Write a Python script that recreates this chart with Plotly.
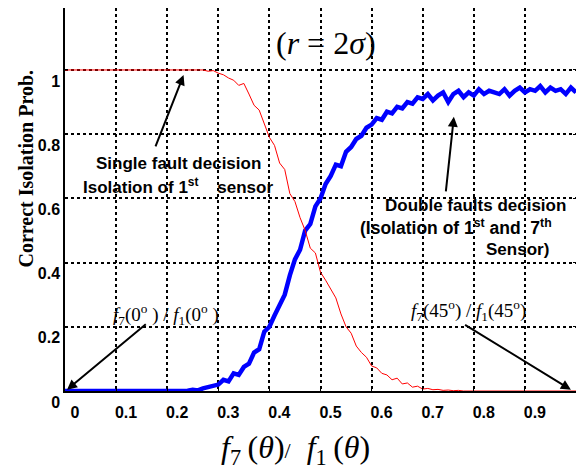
import plotly.graph_objects as go

# sample positions of f7/f1 ratio
ratio = [round(i * 0.01, 2) for i in range(101)]

# single fault decision (isolation of 1st sensor) probability
single_fault = [1.0] * 25 + [
    1.0, 0.998, 1.0, 0.996, 0.998, 0.99, 0.985, 0.975, 0.968, 0.952,
    0.958, 0.925, 0.89, 0.875, 0.83, 0.79, 0.765, 0.71, 0.69, 0.615,
    0.59, 0.54, 0.5, 0.445, 0.43, 0.37, 0.345, 0.315, 0.29, 0.24,
    0.2, 0.18, 0.14, 0.12, 0.105, 0.078, 0.072, 0.055, 0.05, 0.035,
    0.04, 0.022, 0.025, 0.012, 0.015, 0.006, 0.008, 0.004, 0.005, 0.002,
    0.003, 0.001, 0.002] + [0.0] * 23

# double faults decision (isolation of 1st and 7th sensor) probability
double_fault = [0.0] * 20 + [
    0.0, 0.002, 0.0, 0.002, 0.001, 0.004, 0.002, 0.008, 0.012, 0.018,
    0.02, 0.035, 0.03, 0.055, 0.05, 0.075, 0.085, 0.12, 0.13, 0.185,
    0.2, 0.235, 0.27, 0.3, 0.36, 0.41, 0.44, 0.5, 0.52, 0.575,
    0.6, 0.645, 0.67, 0.705, 0.7, 0.745, 0.76, 0.785, 0.795, 0.82,
    0.83, 0.85, 0.845, 0.87, 0.865, 0.885, 0.88, 0.9, 0.895, 0.915,
    0.91, 0.925, 0.905, 0.92, 0.93, 0.9, 0.925, 0.935, 0.915, 0.93,
    0.92, 0.94, 0.925, 0.935, 0.93, 0.925, 0.94, 0.92, 0.935, 0.945,
    0.93, 0.94, 0.935, 0.95, 0.93, 0.945, 0.935, 0.94, 0.925, 0.945,
    0.93]

x_tickvals = [0, 0.1, 0.2, 0.3, 0.4, 0.5, 0.6, 0.7, 0.8, 0.9, 1.0]
x_ticktext = ["0", "0.1", "0.2", "0.3", "0.4", "0.5", "0.6", "0.7", "0.8", "0.9", "1"]
y_tickvals = [0, 0.2, 0.4, 0.6, 0.8, 1.0]
y_ticktext = ["0", "0.2", "0.4", "0.6", "0.8", "1"]

SANS = "Liberation Sans, Arial, sans-serif"
SERIF = "Liberation Serif, Times New Roman, serif"

fig = go.Figure()
fig.add_trace(go.Scatter(x=ratio, y=double_fault, mode="lines",
                         line=dict(color="#0000FF", width=4.5), showlegend=False))
fig.add_trace(go.Scatter(x=ratio, y=single_fault, mode="lines",
                         line=dict(color="#FF0000", width=1), showlegend=False))

axis_common = dict(showline=True, linecolor="black", linewidth=1.5, mirror="ticks",
                   ticks="inside", ticklen=3, tickcolor="black",
                   showgrid=True, gridcolor="black", griddash="dot", gridwidth=1.5,
                   zeroline=False, automargin=False,
                   tickfont=dict(family=SANS, size=16, color="black", weight="bold"))

fig.update_xaxes(range=[0, 1.0], tickvals=x_tickvals, ticktext=x_ticktext,
                 ticklabelshift=10, ticklabelstandoff=6, **axis_common)
fig.update_yaxes(range=[0, 1.193], tickvals=y_tickvals, ticktext=y_ticktext,
                 ticklabelshift=11, ticklabelstandoff=0, **axis_common)

C = dict(xanchor="center", yanchor="middle")
ann = []
# y title
ann.append(dict(text="<b>Correct Isolation Prob.</b>", textangle=-90,
                xref="paper", yref="paper", x=-0.077, y=0.58, showarrow=False,
                font=dict(family=SERIF, size=20, color="black"), **C))
# x title
ann.append(dict(text="<i>f</i><sub>7</sub>\u2009(<i>θ</i>)"
                     "<span style='font-size:22px'>/</span>\u2002"
                     "<i>f</i><sub>1</sub>\u2009(<i>θ</i>)",
                xref="paper", yref="paper", x=0.452, y=-0.152, showarrow=False,
                font=dict(family=SERIF, size=32, color="black"), **C))
# (r = 2 sigma)
ann.append(dict(text="(<i>r</i> = 2<i>σ</i>)", xref="paper", yref="paper",
                x=0.511, y=0.909, showarrow=False,
                font=dict(family=SERIF, size=32, color="black"), **C))
# single fault
ann.append(dict(text="<b>Single fault decision</b>", x=0.222, y=0.709, showarrow=False,
                font=dict(family=SANS, size=17, color="black"), **C))
ann.append(dict(text="<b>Isolation of 1<sup>st</sup>\u00a0\u00a0\u00a0 sensor</b>", x=0.222, y=0.64,
                showarrow=False, font=dict(family=SANS, size=17, color="black"), **C))
ann.append(dict(x=0.232, y=0.984, ax=0.176, ay=0.757, axref="x", ayref="y",
                text="", showarrow=True, arrowhead=2, arrowsize=1, arrowwidth=2,
                arrowcolor="black"))
# double faults
ann.append(dict(text="<b>Double faults decision</b>", x=0.804, y=0.579, showarrow=False,
                font=dict(family=SANS, size=17, color="black"), **C))
ann.append(dict(text="<b>(Isolation of 1<sup>st</sup> and\u00a0 7<sup>th</sup></b>", x=0.765, y=0.51,
                showarrow=False, font=dict(family=SANS, size=17.5, color="black"), **C))
ann.append(dict(text="<b>Sensor)</b>", x=0.886, y=0.44, showarrow=False,
                font=dict(family=SANS, size=17, color="black"), **C))
ann.append(dict(x=0.761, y=0.854, ax=0.745, ay=0.617, axref="x", ayref="y",
                text="", showarrow=True, arrowhead=2, arrowsize=1, arrowwidth=2,
                arrowcolor="black"))
# f7(0)/f1(0)
ann.append(dict(text="<i>f</i><sub>7</sub>(0<sup>o</sup> ) / <i>f</i><sub>1</sub>(0<sup>o</sup> )",
                x=0.198, y=0.237, showarrow=False,
                font=dict(family=SERIF, size=19, color="black"), **C))
ann.append(dict(x=0.004, y=0.004, ax=0.161, ay=0.212, axref="x", ayref="y",
                text="", showarrow=True, arrowhead=2, arrowsize=1, arrowwidth=2,
                arrowcolor="black"))
# f7(45)/f1(45)
ann.append(dict(text="<i>f</i><sub>7</sub>(45<sup>o</sup>) / <i>f</i><sub>1</sub>(45<sup>o</sup>)",
                x=0.79, y=0.25, showarrow=False,
                font=dict(family=SERIF, size=19, color="black"), **C))
ann.append(dict(x=0.99, y=0.004, ax=0.78, ay=0.209, axref="x", ayref="y",
                text="", showarrow=True, arrowhead=2, arrowsize=1, arrowwidth=2,
                arrowcolor="black"))

# the page body adds an 8px offset; the figure is sized so the plot lands where the reference has it
fig.update_layout(width=576, height=464, margin=dict(l=57, r=8, t=0, b=81),
                  paper_bgcolor="white", plot_bgcolor="white", annotations=ann)

fig.write_html("out.html")
